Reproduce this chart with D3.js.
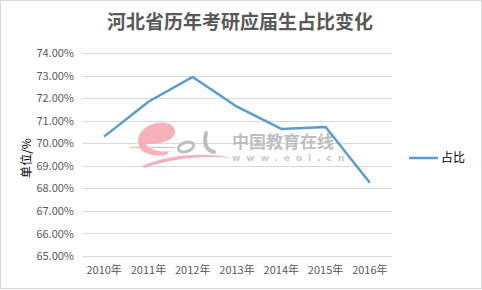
<!DOCTYPE html>
<html><head><meta charset="utf-8">
<script src="https://cdn.jsdelivr.net/npm/d3@7"></script>
<style>body{margin:0;background:#fff}svg{display:block}</style>
</head><body>
<svg id="c" width="482" height="290"></svg>
<script>
const categories = ["2010年","2011年","2012年","2013年","2014年","2015年","2016年"];
const values = [70.30, 71.85, 72.95, 71.63, 70.64, 70.73, 68.25];
const yTicks = [65,66,67,68,69,70,71,72,73,74];
const seriesName = "占比";
const title = "河北省历年考研应届生占比变化";
const yLabel = "单位/%";

const svg = d3.select("#c");
const font = "'Noto Sans CJK SC','Microsoft YaHei',sans-serif";
svg.append("rect").attr("x",0.5).attr("y",0.5).attr("width",481).attr("height",288)
  .attr("fill","#fff").attr("stroke","#d9d9d9");

const x = d3.scaleBand().domain(categories).range([82,392]);
const y = d3.scaleLinear().domain([65,74]).range([256,53.3]);

// grid
svg.append("g").selectAll("line").data(yTicks).join("line")
  .attr("x1",82).attr("x2",392).attr("y1",d=>Math.round(y(d))+0.5).attr("y2",d=>Math.round(y(d))+0.5)
  .attr("stroke","#d9d9d9").attr("stroke-width",1);

// watermark (decorative)
const wm = svg.append("g").attr("opacity",0.9);
wm.append("path").attr("d","M139,146 C134,132 150,121 165,123 C175,124 178,132 172,138 C166,143 155,144 146,144 C150,150 160,153 170,151 L166,155 C152,157 141,153 139,146 Z").attr("fill","#f6aab1");
wm.append("path").attr("d","M130,147.5 L175,147.5").attr("stroke","#f6aab1").attr("stroke-width",1);
wm.append("path").attr("d","M142,166 C170,154 205,152 232,158 C205,155 172,158 144,168 Z").attr("fill","#f6aab1");
wm.append("ellipse").attr("cx",186).attr("cy",147).attr("rx",8).attr("ry",4.5).attr("transform","rotate(-18,186,147)")
  .attr("fill","none").attr("stroke","#b9b9b9").attr("stroke-width",3);
wm.append("path").attr("d","M206,133 C204,142 205,150 214,152").attr("fill","none").attr("stroke","#b9b9b9").attr("stroke-width",4).attr("stroke-linecap","round");
wm.append("text").attr("x",232).attr("y",148).attr("font-family",font).attr("font-size",17).attr("font-weight","bold").attr("fill","#b9b9b9").text("中国教育在线");
wm.append("text").attr("x",232).attr("y",161).attr("font-family","'DejaVu Sans',sans-serif").attr("font-size",9).attr("font-weight","bold").attr("letter-spacing","6").attr("fill","#c4c4c4").text("www.eol.cn");

// y axis labels
const yAxis = d3.axisLeft(y).tickValues(yTicks).tickSize(0).tickPadding(0).tickFormat(d=>d.toFixed(2)+"%");
const ga = svg.append("g").attr("transform","translate(74,0)").call(yAxis);
ga.select(".domain").remove();
ga.selectAll("text").attr("font-family",font).attr("font-size",11).attr("fill","#595959");

// x axis labels
const xAxis = d3.axisBottom(x).tickSize(0).tickPadding(0);
const gx = svg.append("g").attr("transform","translate(0,266)").call(xAxis);
gx.select(".domain").remove();
gx.selectAll("text").attr("font-family",font).attr("font-size",11).attr("fill","#595959");

// line
const line = d3.line().x((d,i)=>x(categories[i])+x.bandwidth()/2).y(d=>y(d));
svg.append("path").datum(values).attr("d",line).attr("fill","none")
  .attr("stroke","#5b9bd5").attr("stroke-width",2.5).attr("stroke-linejoin","round");

// title
svg.append("text").attr("x",240).attr("y",29).attr("text-anchor","middle")
  .attr("font-family",font).attr("font-size",19).attr("font-weight","bold").attr("fill","#595959").text(title);

// y label
svg.append("text").attr("transform","translate(31,158) rotate(-90)").attr("text-anchor","middle")
  .attr("font-family",font).attr("font-size",12).attr("fill","#000").text(yLabel);

// legend
svg.append("line").attr("x1",409).attr("x2",438).attr("y1",158).attr("y2",158).attr("stroke","#5b9bd5").attr("stroke-width",2.5);
svg.append("text").attr("x",441).attr("y",162).attr("font-family",font).attr("font-size",12).attr("fill","#000").text(seriesName);
</script>
</body></html>
